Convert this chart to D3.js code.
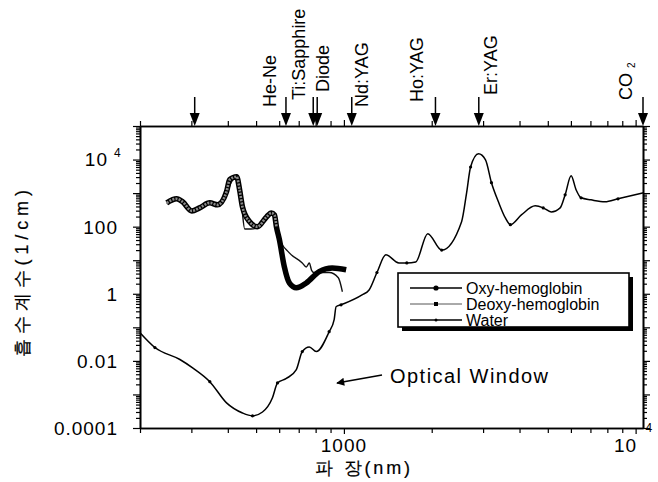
<!DOCTYPE html>
<html>
<head>
<meta charset="utf-8">
<script src="https://cdn.jsdelivr.net/npm/d3@7"></script>
<style>
  body { margin: 0; background: #fff; }
  svg text { font-family: 'Liberation Sans', Arial, sans-serif; fill: #000; }
</style>
</head>
<body>
<div id="chart"></div>
<script>
// Water absorption (1/cm) vs wavelength (nm)
const waterWavelength = [200, 225, 274, 303, 347, 396, 449, 486, 526, 569, 592, 635, 687, 720, 761, 804, 890, 926, 940, 978,
  1154, 1220, 1298, 1393, 1544, 1643, 1763, 1938, 2164, 2532, 2634, 2718, 2894, 3058, 3205, 3386, 3577, 3720, 4058,
  4529, 4823, 5136, 5512, 5733, 6010, 6250, 6501, 7031, 7852, 8700, 10600];
const waterAbsorption = [0.069, 0.025, 0.011, 0.0062, 0.0024, 0.00056, 0.00028, 0.00023, 0.0003, 0.0008, 0.0022, 0.003,
  0.0055, 0.019, 0.026, 0.019, 0.074, 0.17, 0.41, 0.47, 0.93, 1.3, 4.3, 14.5, 8.3, 8.3, 8.9, 62, 20, 141, 1020, 6000,
  14800, 9800, 2040, 550, 182, 115, 224, 417, 363, 275, 363, 890, 3300, 1260, 724, 630, 550, 676, 1020];

// Oxy-hemoglobin
const oxyWavelength = [247, 267, 280, 301, 320, 347, 369, 396, 406, 429, 439, 449, 475, 505, 543, 564, 578, 587, 601,
  625, 650, 687, 743, 823, 912, 1018];
const oxyAbsorption = [513, 676, 550, 295, 363, 513, 447, 1100, 2510, 3090, 1260, 389, 141, 100, 195, 257, 224, 100, 41,
  6.3, 2.1, 1.5, 2.1, 4.6, 5.9, 5.2];

// Deoxy-hemoglobin
const deoxyWavelength = [247, 267, 280, 301, 320, 347, 369, 396, 410, 432, 442, 449, 457, 480, 505, 543, 564, 578, 592,
  650, 720, 743, 761, 775, 790, 890, 957, 988];
const deoxyAbsorption = [480, 630, 525, 282, 347, 490, 427, 890, 2000, 3310, 1260, 250, 85, 85, 93, 186, 251, 229, 56,
  16.6, 8.3, 6.3, 8.3, 5.0, 4.3, 4.3, 3.0, 1.15];

// Laser lines marked on the top axis
const laserNames = ['', 'He-Ne', 'Ti:Sapphire', 'Diode', 'Nd:YAG', 'Ho:YAG', 'Er:YAG', 'CO'];
const laserWavelength = [308, 633, 785, 810, 1064, 2060, 2900, 10600];

const legendLabels = ['Oxy-hemoglobin', 'Deoxy-hemoglobin', 'Water'];

const width = 658;
const height = 482;
const margin = { top: 126, right: 15, bottom: 54, left: 140 };

const x = d3.scaleLog().domain([200, 10600]).range([margin.left, width - margin.right]);
const y = d3.scaleLog().domain([1e-4, 1e5]).range([height - margin.bottom, margin.top]);

const svg = d3
  .select('#chart')
  .append('svg')
  .attr('width', width)
  .attr('height', height);

// tick values: decades and the 2..9 in between
const xMajor = [1000, 10000];
const xMinor = [];
for (let k = 2; k <= 4; k++) {
  for (let m = 1; m <= 9; m++) {
    const v = m * Math.pow(10, k);
    if (v >= 200 && v <= 10600 && !xMajor.includes(v)) xMinor.push(v);
  }
}
const yMajor = d3.range(-4, 6).map(k => Math.pow(10, k));
const yMinor = [];
for (let k = -4; k <= 4; k++) {
  for (let m = 2; m <= 9; m++) yMinor.push(m * Math.pow(10, k));
}

function drawAxis(axisFn, values, size, transform) {
  const g = svg
    .append('g')
    .attr('transform', transform)
    .call(axisFn.tickValues(values).tickSize(size).tickSizeOuter(0).tickFormat(''));
  g.select('.domain').attr('stroke-width', 1.6);
  g.selectAll('.tick line').attr('stroke-width', 1.2);
  return g;
}

const bottomY = height - margin.bottom;
const rightX = width - margin.right;
drawAxis(d3.axisBottom(x), xMajor, 6, `translate(0,${bottomY})`);
drawAxis(d3.axisBottom(x), xMinor, 5, `translate(0,${bottomY})`);
drawAxis(d3.axisTop(x), xMajor, 6, `translate(0,${margin.top})`);
drawAxis(d3.axisTop(x), xMinor, 5, `translate(0,${margin.top})`);
drawAxis(d3.axisLeft(y), yMajor, 7, `translate(${margin.left},0)`);
drawAxis(d3.axisLeft(y), yMinor, 4, `translate(${margin.left},0)`);
drawAxis(d3.axisRight(y), yMajor, 7, `translate(${rightX},0)`);
drawAxis(d3.axisRight(y), yMinor, 4, `translate(${rightX},0)`);

// y tick labels
const yLabelValues = [1e4, 100, 1, 0.01, 0.0001];
const yLabelText = ['10', '100', '1', '0.01', '0.0001'];
yLabelValues.forEach((v, i) => {
  svg
    .append('text')
    .attr('x', i === 0 ? 108 : 118)
    .attr('y', y(v))
    .attr('dy', '0.36em')
    .attr('text-anchor', 'end')
    .attr('font-size', 19)
    .attr('letter-spacing', 1)
    .text(yLabelText[i]);
  if (i === 0) {
    svg
      .append('text')
      .attr('x', 114)
      .attr('y', y(v) - 3)
      .attr('font-size', 12)
      .text('4');
  }
});

// x tick labels
svg
  .append('text')
  .attr('x', x(1000))
  .attr('y', 452)
  .attr('text-anchor', 'middle')
  .attr('font-size', 19)
  .attr('letter-spacing', 1)
  .text('1000');
svg
  .append('text')
  .attr('x', x(10000) - 10)
  .attr('y', 452)
  .attr('text-anchor', 'middle')
  .attr('font-size', 19)
  .attr('letter-spacing', 1)
  .text('10');
svg
  .append('text')
  .attr('x', x(10000) + 10)
  .attr('y', 432)
  .attr('font-size', 12)
  .text('4');

// axis titles (Korean)
svg
  .append('text')
  .attr('x', 315)
  .attr('y', 474)
  .attr('font-family', "'Noto Sans CJK KR', sans-serif")
  .attr('font-size', 18)
  .style('fill', '#000')
  .attr('stroke', '#000')
  .attr('stroke-width', 0.2)
  .attr('textLength', 95)
  .attr('lengthAdjust', 'spacing')
  .text('파 장(nm)');

svg
  .append('text')
  .attr('transform', 'translate(28,357) rotate(-90)')
  .attr('font-family', "'Noto Sans CJK KR', sans-serif")
  .attr('font-size', 18)
  .style('fill', '#000')
  .attr('stroke', '#000')
  .attr('stroke-width', 0.2)
  .attr('textLength', 167)
  .attr('lengthAdjust', 'spacing')
  .text('흡수계수(1/cm)');

// curves
const line = d3
  .line()
  .x(d => x(d[0]))
  .y(d => y(d[1]))
  .curve(d3.curveMonotoneX);

const waterData = d3.zip(waterWavelength, waterAbsorption);
const oxyData = d3.zip(oxyWavelength, oxyAbsorption);
const deoxyData = d3.zip(deoxyWavelength, deoxyAbsorption);

const plot = svg.append('g').attr('fill', 'none');

plot
  .append('path')
  .datum(waterData)
  .attr('stroke', '#000')
  .attr('stroke-width', 1.5)
  .attr('d', line);

plot
  .append('g')
  .selectAll('circle')
  .data(waterData.filter((d, i) => i % 3 === 1))
  .join('circle')
  .attr('cx', d => x(d[0]))
  .attr('cy', d => y(d[1]))
  .attr('r', 1.6)
  .attr('fill', '#000');

plot
  .append('path')
  .datum(deoxyData)
  .attr('stroke', '#111')
  .attr('stroke-width', 1.4)
  .attr('d', line);

plot
  .append('path')
  .datum(oxyData)
  .attr('stroke', '#000')
  .attr('stroke-width', 5.5)
  .attr('stroke-linejoin', 'round')
  .attr('d', line);

plot
  .append('path')
  .datum(oxyData.filter(d => d[0] <= 600))
  .attr('stroke', '#8a8a8a')
  .attr('stroke-width', 2.6)
  .attr('stroke-dasharray', '2,1.2')
  .attr('d', line);

// laser arrows on the top axis
const laserLabelDx = [0, -10, -8, 12, 16, -12, 18, -11];
const laserLabelBottom = [0, 107, 100, 92, 107, 102, 95, 100];
const arrows = svg.append('g');
laserWavelength.forEach((w, i) => {
  const ax = Math.min(x(w), rightX);
  arrows
    .append('line')
    .attr('x1', ax)
    .attr('x2', ax)
    .attr('y1', 97)
    .attr('y2', 114)
    .attr('stroke', '#000')
    .attr('stroke-width', 1.5);
  arrows
    .append('path')
    .attr('d', `M${ax - 5},${113} L${ax + 5},${113} L${ax},${126} Z`)
    .attr('fill', '#000');
  if (laserNames[i]) {
    const t = arrows
      .append('text')
      .attr('transform', `translate(${ax + laserLabelDx[i]},${laserLabelBottom[i]}) rotate(-90)`)
      .attr('font-size', 18)
      .text(laserNames[i]);
    if (laserNames[i] === 'CO') {
      t.append('tspan').attr('font-size', 10).attr('dx', 5).attr('dy', 3).text('2');
    }
  }
});

// Optical Window annotation
svg
  .append('defs')
  .append('marker')
  .attr('id', 'head')
  .attr('viewBox', '0 0 10 10')
  .attr('refX', 9)
  .attr('refY', 5)
  .attr('markerWidth', 12)
  .attr('markerHeight', 8)
  .attr('markerUnits', 'userSpaceOnUse')
  .attr('orient', 'auto')
  .append('path')
  .attr('d', 'M0,0 L10,5 L0,10 Z')
  .attr('fill', '#000');

svg
  .append('line')
  .attr('x1', 382)
  .attr('y1', 375)
  .attr('x2', 337)
  .attr('y2', 383)
  .attr('stroke', '#000')
  .attr('stroke-width', 1.5)
  .attr('marker-end', 'url(#head)');

svg
  .append('text')
  .attr('x', 390)
  .attr('y', 383)
  .attr('font-size', 20)
  .attr('textLength', 158)
  .attr('lengthAdjust', 'spacing')
  .text('Optical Window');

// legend
const legend = svg.append('g');
legend
  .append('rect')
  .attr('x', 402)
  .attr('y', 277)
  .attr('width', 231)
  .attr('height', 54)
  .attr('fill', '#000');
legend
  .append('rect')
  .attr('x', 398)
  .attr('y', 273)
  .attr('width', 231)
  .attr('height', 54)
  .attr('fill', '#fff')
  .attr('stroke', '#000')
  .attr('stroke-width', 1.6);

const legendRowY = [288, 304, 320];
const legendStroke = [1.6, 1, 1.3];
const legendColor = ['#000', '#555', '#000'];
legendLabels.forEach((label, i) => {
  const ly = legendRowY[i];
  legend
    .append('line')
    .attr('x1', 410)
    .attr('x2', 462)
    .attr('y1', ly)
    .attr('y2', ly)
    .attr('stroke', legendColor[i])
    .attr('stroke-width', legendStroke[i]);
  if (i === 1) {
    legend
      .append('rect')
      .attr('x', 434)
      .attr('y', ly - 2)
      .attr('width', 4)
      .attr('height', 4)
      .attr('fill', '#000');
  } else {
    legend
      .append('circle')
      .attr('cx', 436)
      .attr('cy', ly)
      .attr('r', i === 0 ? 2.6 : 1.5)
      .attr('fill', '#000');
  }
  legend
    .append('text')
    .attr('x', 466)
    .attr('y', ly + 6)
    .attr('font-size', 16)
    .text(label);
});
</script>
</body>
</html>
